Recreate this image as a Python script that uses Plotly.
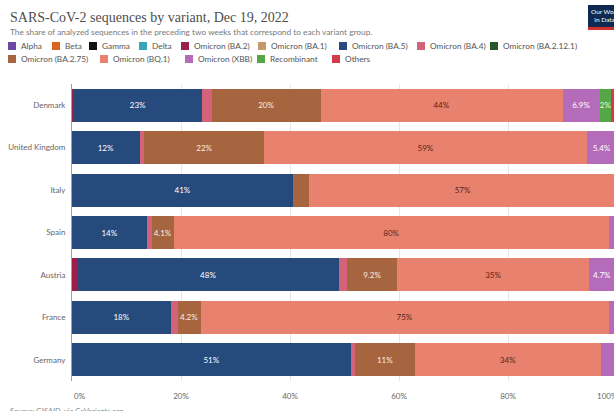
import plotly.graph_objects as go

# ---- data ---------------------------------------------------------------
countries = ["Denmark", "United Kingdom", "Italy", "Spain", "Austria", "France", "Germany"]

variants = [
    "Alpha", "Beta", "Gamma", "Delta", "Omicron (BA.2)", "Omicron (BA.1)",
    "Omicron (BA.5)", "Omicron (BA.4)", "Omicron (BA.2.12.1)", "Omicron (BA.2.75)",
    "Omicron (BQ.1)", "Omicron (XBB)", "Recombinant", "Others",
]

# share of sequences (%) per country, same order as `countries`
alpha       = [0, 0, 0, 0, 0, 0, 0]
beta        = [0, 0, 0, 0, 0, 0, 0]
gamma       = [0, 0, 0, 0, 0, 0, 0]
delta       = [0, 0, 0, 0, 0, 0, 0]
ba2         = [0.4, 0, 0, 0, 1.1, 0, 0]
ba1         = [0, 0, 0, 0, 0, 0, 0]
ba5         = [23.4, 12.4, 40.6, 13.8, 47.8, 18.2, 51.2]
ba4         = [1.9, 0.9, 0, 0.8, 1.6, 1.2, 0.7]
ba2121      = [0, 0, 0, 0, 0, 0, 0]
ba275       = [19.9, 22.0, 2.8, 4.1, 9.2, 4.2, 11.1]
bq1         = [44.4, 59.2, 56.6, 79.8, 35.2, 74.9, 34.0]
xbb         = [6.9, 5.4, 0, 1.2, 4.7, 1.0, 2.7]
recombinant = [2.04, 0, 0, 0, 0, 0, 0]
others      = [1.06, 0.1, 0, 0.3, 0.4, 0.5, 0.3]

series = [alpha, beta, gamma, delta, ba2, ba1, ba5, ba4, ba2121, ba275, bq1, xbb, recombinant, others]

x_ticks = [0, 20, 40, 60, 80, 100]

# ---- styling ------------------------------------------------------------
colors = [
    "#6d48a2", "#d8661f", "#111111", "#38a6b8", "#9a1f4b", "#c49a6c",
    "#264a7c", "#d3627b", "#275a2a", "#a6653f", "#e8826e", "#b46cba",
    "#55a646", "#d63a4a",
]
label_colors = [
    "white", "white", "white", "white", "white", "#3a2a1a",
    "white", "white", "white", "#fbeee0", "#5a2218", "white",
    "#eaf7d8", "white",
]

W, H = 614, 411
PLOT_L, PLOT_R, PLOT_T, PLOT_B = 72, 614, 84, 381
PX_PER_PCT = 5.45          # horizontal pixels for one percentage point
X_MAX = (PLOT_R - PLOT_L) / PX_PER_PCT
LABEL_FONT = "Lato"
CHAR_W = 4.4               # rough width of one label glyph at size 8


def px_x(px):
    return (px - PLOT_L) / (PLOT_R - PLOT_L)


def px_y(py):
    return (PLOT_B - py) / (PLOT_B - PLOT_T)


def fmt(v):
    if v >= 10:
        return f"{round(v):.0f}%"
    s = f"{v:.1f}"
    if s.endswith(".0"):
        s = s[:-2]
    return s + "%"


def seg_labels(vals):
    out = []
    for v in vals:
        if v <= 0:
            out.append("")
            continue
        t = fmt(v)
        out.append(t if len(t) * CHAR_W + 2 <= v * PX_PER_PCT else "")
    return out


fig = go.Figure()
for name, vals, col, tcol in zip(variants, series, colors, label_colors):
    fig.add_trace(go.Bar(
        name=name,
        y=countries,
        x=vals,
        orientation="h",
        marker=dict(color=col, line=dict(width=0)),
        text=seg_labels(vals),
        textposition="inside",
        insidetextanchor="middle",
        textangle=0,
        constraintext="none",
        insidetextfont=dict(family=LABEL_FONT, size=8, color=tcol),
        showlegend=False,
        hoverinfo="skip",
    ))

annotations = []
shapes = []

# title, subtitle
annotations.append(dict(
    xref="paper", yref="paper", x=px_x(8), y=px_y(17), xanchor="left", yanchor="middle",
    text="SARS-CoV-2 sequences by variant, Dec 19, 2022", showarrow=False,
    font=dict(family="Liberation Serif", size=14, color="#4d4d4d"),
))
annotations.append(dict(
    xref="paper", yref="paper", x=px_x(8), y=px_y(32), xanchor="left", yanchor="middle",
    text="The share of analyzed sequences in the preceding two weeks that correspond to each variant group.",
    showarrow=False, font=dict(family=LABEL_FONT, size=8.3, color="#7a7a7a"),
))

# logo block at top right
shapes.append(dict(type="rect", xref="paper", yref="paper",
                   x0=px_x(588), x1=px_x(640), y0=px_y(27), y1=px_y(5),
                   fillcolor="#0e2a50", line=dict(width=0), layer="above"))
shapes.append(dict(type="rect", xref="paper", yref="paper",
                   x0=px_x(588), x1=px_x(640), y0=px_y(30), y1=px_y(27),
                   fillcolor="#d0312d", line=dict(width=0), layer="above"))
annotations.append(dict(
    xref="paper", yref="paper", x=px_x(589), y=px_y(16), xanchor="left", yanchor="middle",
    text="Our World<br>  in Data", align="left", showarrow=False,
    font=dict(family="Lato", size=6.5, color="white"),
))

# legend, drawn as squares and labels in two rows
legend_rows = [
    (46, [(0, 8), (1, 52), (2, 89), (3, 139), (4, 181), (5, 258), (6, 339), (7, 417), (8, 490)]),
    (59, [(9, 8), (10, 100), (11, 185), (12, 257), (13, 332)]),
]
for row_y, items in legend_rows:
    for idx, sx in items:
        shapes.append(dict(type="rect", xref="paper", yref="paper",
                           x0=px_x(sx), x1=px_x(sx + 8), y0=px_y(row_y + 4), y1=px_y(row_y - 4),
                           fillcolor=colors[idx], line=dict(width=0)))
        annotations.append(dict(
            xref="paper", yref="paper", x=px_x(sx + 11), y=px_y(row_y), xanchor="left",
            yanchor="middle", text=variants[idx], showarrow=False,
            font=dict(family=LABEL_FONT, size=8.3, color="#555555"),
        ))

# end tick labels, aligned inward like the rest of the axis
annotations.append(dict(
    xref="x", yref="paper", x=x_ticks[0], y=px_y(396), xanchor="left", yanchor="middle",
    text=f"{x_ticks[0]}%", showarrow=False, font=dict(family=LABEL_FONT, size=8, color="#666666"),
))
annotations.append(dict(
    xref="paper", yref="paper", x=px_x(PLOT_L + x_ticks[-1] * PX_PER_PCT + 3), y=px_y(396),
    xanchor="right", yanchor="middle",
    text=f"{x_ticks[-1]}%", showarrow=False, font=dict(family=LABEL_FONT, size=8, color="#666666"),
))

# source line along the bottom edge
annotations.append(dict(
    xref="paper", yref="paper", x=px_x(8), y=px_y(405), xanchor="left", yanchor="top",
    text="Source: GISAID, via CoVariants.org", showarrow=False,
    font=dict(family=LABEL_FONT, size=7.5, color="#888888"),
))

fig.update_layout(
    width=W, height=H,
    margin=dict(l=PLOT_L, r=W - PLOT_R, t=PLOT_T, b=H - PLOT_B, autoexpand=False),
    barmode="stack",
    bargap=0.22,
    plot_bgcolor="white",
    paper_bgcolor="white",
    showlegend=False,
    annotations=annotations,
    shapes=shapes,
    font=dict(family=LABEL_FONT),
)
fig.update_xaxes(
    range=[0, X_MAX],
    tickvals=x_ticks[1:-1],
    ticktext=[f"{t}%" for t in x_ticks[1:-1]],
    tickfont=dict(family=LABEL_FONT, size=8, color="#666666"),
    ticks="",
    ticklabelstandoff=9,
    showgrid=True, gridcolor="#e6e6e6", gridwidth=1,
    zeroline=False, showline=False,
    automargin=False,
)
fig.update_yaxes(
    categoryorder="array", categoryarray=countries, autorange="reversed",
    tickfont=dict(family=LABEL_FONT, size=8, color="#666666"),
    ticks="", ticklabelstandoff=4,
    showline=True, linecolor="#a0a0a0", linewidth=1,
    showgrid=False, automargin=False,
)

fig.write_html("out.html")
